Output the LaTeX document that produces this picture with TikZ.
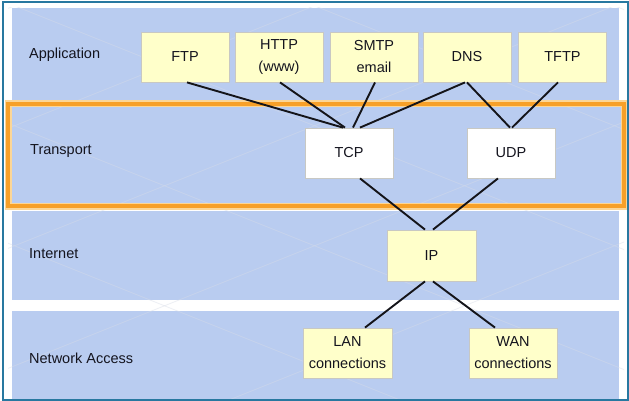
\documentclass[tikz,border=0pt]{standalone}
\usepackage{fontspec}
\setmainfont{Liberation Sans}
\begin{document}
\begin{tikzpicture}[x=1pt,y=-1pt,
  band/.style={fill=bandblue,draw=none},
  yel/.style={draw=boxgray,line width=0.8pt,fill=boxyellow,minimum width=88pt,minimum height=50pt,inner sep=0pt,align=center,font=\fontsize{14.5}{22}\selectfont,text=textdark},
  wht/.style={yel,fill=white},
  lbl/.style={anchor=west,inner sep=0pt,font=\fontsize{14.5}{17}\selectfont,text=textdark},
  conn/.style={line width=1.9pt,draw=linedark},
  lattice/.style={draw=latticecol,opacity=0.45,line width=0.8pt}]
\definecolor{bandblue}{RGB}{185,204,240}
\definecolor{boxyellow}{RGB}{255,255,202}
\definecolor{boxgray}{RGB}{200,200,195}
\definecolor{textdark}{RGB}{20,20,30}
\definecolor{linedark}{RGB}{20,20,25}
\definecolor{frameblue}{RGB}{40,120,160}
\definecolor{orangebox}{RGB}{247,160,40}
\definecolor{orangeglow}{RGB}{252,214,150}
\definecolor{latticecol}{RGB}{215,220,232}
\useasboundingbox (0,0) rectangle (629,401);
\fill[white] (0,0) rectangle (629,401);
% bands
\fill[band] (12,8) rectangle (619,105);
\fill[band] (8,104) rectangle (624,206);
\fill[band] (12,211) rectangle (619,300);
\fill[band] (12,311) rectangle (619,399);
% faint lattice
\begin{scope}
\clip (8,8) rectangle (624,399);
\foreach \s in {-600,-300,0,300,600} {
  \draw[lattice] (\s,0) -- (\s+1000,400);
  \draw[lattice] (\s+629,0) -- (\s-371,400);
}
\end{scope}
% orange transport box
\draw[orangeglow,line width=7pt] (8,104) rectangle (624,206);
\draw[orangebox,line width=3.8pt] (8,104) rectangle (624,206);
% frame
\draw[frameblue,line width=1.2pt] (3,2) rectangle (628,400);
% labels
\node[lbl] (lapp) at (29,55) {Application};
\node[lbl] (ltra) at (30,151) {Transport};
\node[lbl] (lint) at (29,254) {Internet};
\node[lbl] (lnet) at (29,358) {Network Access};
% nodes
\node[yel] (ftp) at (185,57) {FTP};
\node[yel] (http) at (279,57) {HTTP\\(www)};
\node[yel] (smtp) at (374,57) {SMTP\\email};
\node[yel] (dns) at (467,57) {DNS};
\node[yel] (tftp) at (562.5,57) {TFTP};
\node[wht] (tcp) at (349,153) {TCP};
\node[wht] (udp) at (511,153) {UDP};
\node[yel,minimum width=89pt,minimum height=51pt] (ip) at (431.5,255.5) {IP};
\node[yel,minimum width=89pt] (lan) at (347.5,353) {LAN\\connections};
\node[yel] (wan) at (513,353) {WAN\\connections};
% connectors
\draw[conn] ([xshift=2pt]ftp.south) -- ([xshift=-6pt]tcp.north);
\draw[conn] ([xshift=1pt]http.south) -- ([xshift=-4pt]tcp.north);
\draw[conn] ([xshift=1pt]smtp.south) -- ([xshift=4pt]tcp.north);
\draw[conn] ([xshift=-2pt]dns.south) -- ([xshift=11pt]tcp.north);
\draw[conn] (dns.south) -- ([xshift=-1pt]udp.north);
\draw[conn] ([xshift=-4.5pt]tftp.south) -- ([xshift=1pt]udp.north);
\draw[conn] ([xshift=11pt]tcp.south) -- ([xshift=-6.5pt]ip.north);
\draw[conn] ([xshift=-13pt]udp.south) -- ([xshift=1.5pt]ip.north);
\draw[conn] ([xshift=-6.5pt]ip.south) -- ([xshift=17.5pt]lan.north);
\draw[conn] ([xshift=1.5pt]ip.south) -- ([xshift=-18pt]wan.north);
\end{tikzpicture}
\end{document}
